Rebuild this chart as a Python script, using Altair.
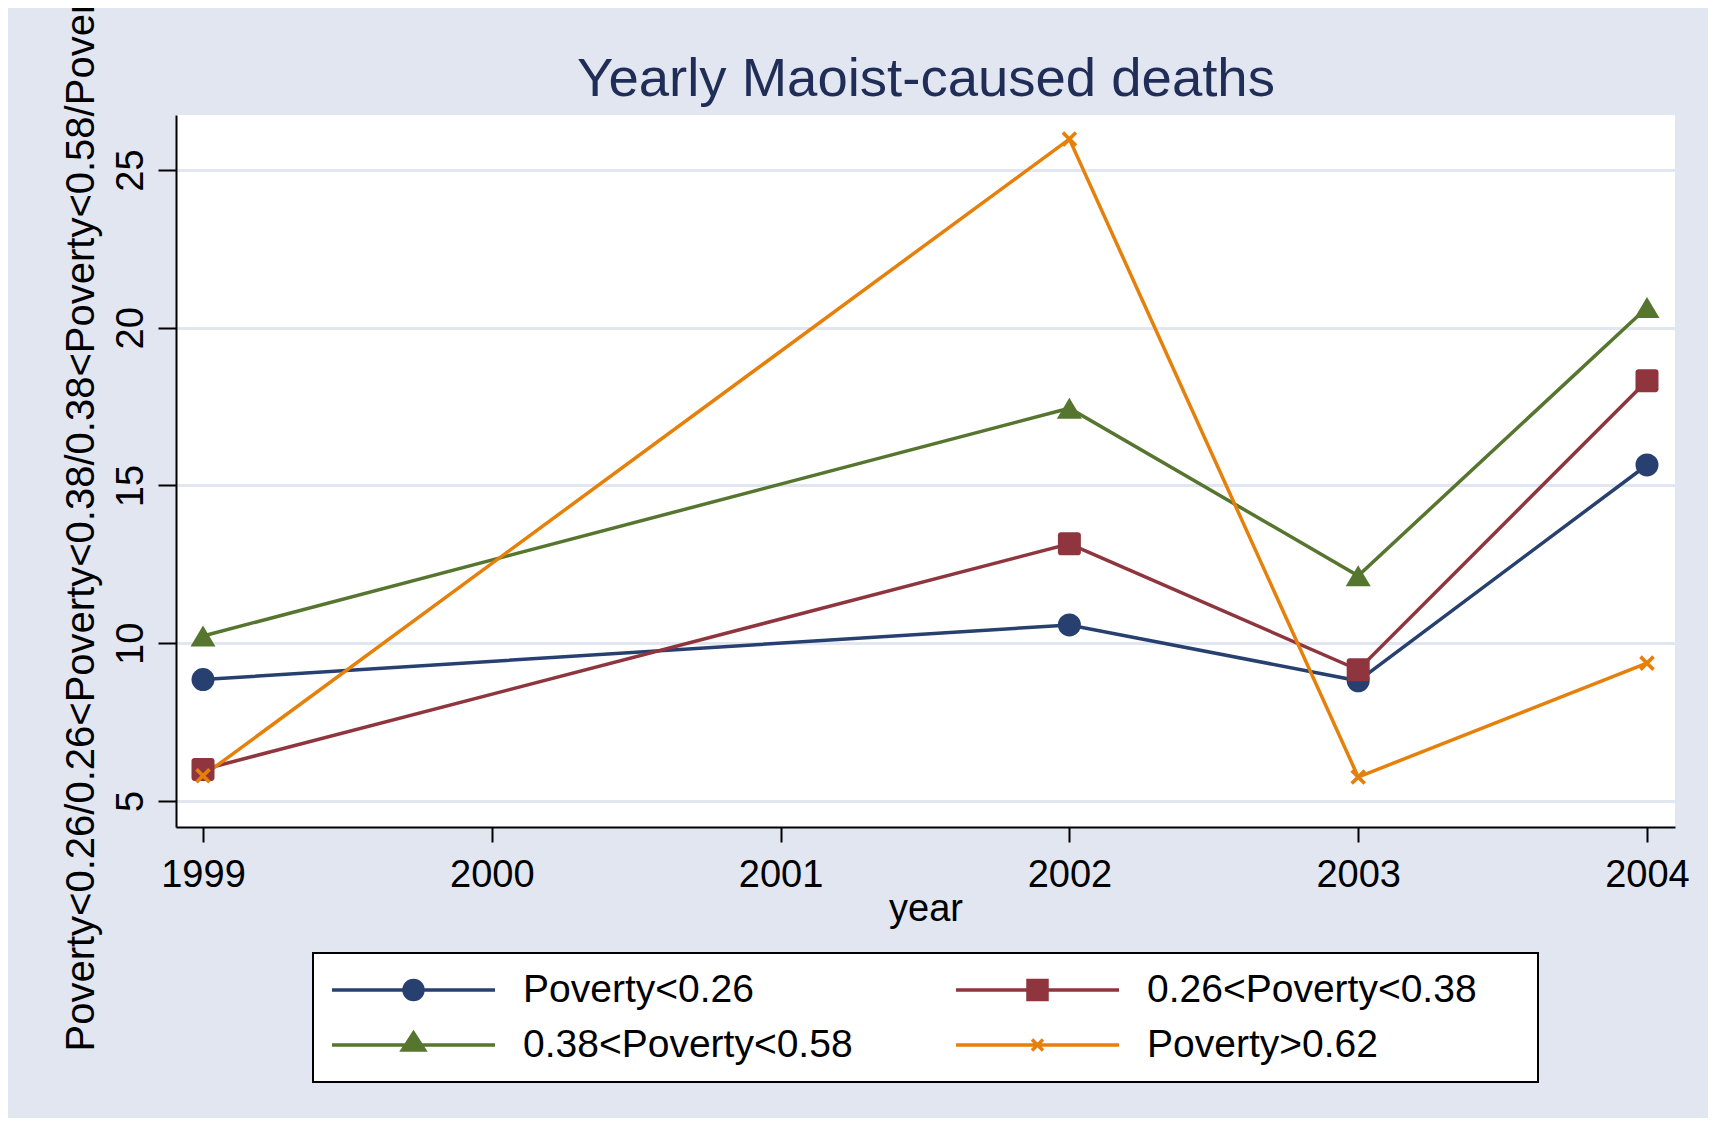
import math
import altair as alt
import pandas as pd

# ---------------- data ----------------
years = [1999, 2002, 2003, 2004]
series_names = ["Poverty<0.26", "0.26<Poverty<0.38", "0.38<Poverty<0.58", "Poverty>0.62"]
pov_lt_026 = [8.85, 10.58, 8.81, 15.65]
pov_026_038 = [6.00, 13.15, 9.16, 18.32]
pov_038_058 = [10.23, 17.45, 12.14, 20.64]
pov_gt_062 = [5.80, 25.98, 5.76, 9.37]
x_ticks = [1999, 2000, 2001, 2002, 2003, 2004]
y_ticks = [5, 10, 15, 20, 25]

title_text = "Yearly Maoist-caused deaths"
x_title = "year"
y_title = "Poverty<0.26/0.26<Poverty<0.38/0.38<Poverty<0.58/Poverty>0.62"

# ---------------- styles ----------------
colors = ["#27406F", "#8F353D", "#56752F", "#E5800A"]
BG = "#E1E6F0"
GRID = "#E1E6F0"
FONT = "Liberation Sans"
TITLE_COLOR = "#1F2D57"

rows = []
for name, vals in zip(series_names, [pov_lt_026, pov_026_038, pov_038_058, pov_gt_062]):
    for yr, v in zip(years, vals):
        rows.append({"year": yr, "deaths": v, "series": name})
df = pd.DataFrame(rows)


def f(v):
    return f"{v:.4f}"


def x_polygon(half_extent, half_thick):
    w = half_thick
    L = math.sqrt(2) * half_extent - w
    pts = [(-w, -L), (w, -L), (w, -w), (L, -w), (L, w), (w, w), (w, L), (-w, L),
           (-w, w), (-L, w), (-L, -w), (-w, -w)]
    s = math.sqrt(0.5)
    rp = [((x - y) * s, (x + y) * s) for x, y in pts]
    return "M" + "L".join(f"{f(x)},{f(y)}" for x, y in rp) + "Z"


# marker shapes (unit = sqrt(size)/2 = 11.5 px)
tri_marker = "M0,-0.913L1.087,0.913L-1.087,0.913Z"
c = 0.25
sq_marker = (f"M{-1 + c},-1L{1 - c},-1A{c},{c},0,0,1,1,{-1 + c}L1,{1 - c}"
             f"A{c},{c},0,0,1,{1 - c},1L{-1 + c},1A{c},{c},0,0,1,-1,{1 - c}"
             f"L-1,{-1 + c}A{c},{c},0,0,1,{-1 + c},-1Z")
x_marker = x_polygon(0.68, 0.16)
marker_shapes = ["circle", sq_marker, tri_marker, x_marker]

# legend symbols (unit = 81.5 px)
U = 81.5


def u(px):
    return f(px / U)


r = u(9.5)
leg_circle = f"M-1,0L1,0M{r},0A{r},{r},0,1,1,-{r},0A{r},{r},0,1,1,{r},0Z"
leg_square = f"M-1,0L1,0M-{r},-{r}L{r},-{r}L{r},{r}L-{r},{r}Z"
leg_tri = f"M-1,0L1,0M0,{u(-12)}L{u(11)},{u(5)}L{u(-11)},{u(5)}Z"
a = u(5.5)
leg_x = f"M-1,0L1,0M-{a},-{a}L{a},{a}M-{a},{a}L{a},-{a}"
legend_shapes = [leg_circle, leg_square, leg_tri, leg_x]

# ---------------- scales / axes ----------------
scale_x = alt.Scale(domain=[1998.9065, 2004.097], nice=False, zero=False)
scale_y = alt.Scale(domain=[4.176, 26.743], nice=False, zero=False)

W, H = 1499, 712

x_axis = alt.Axis(
    orient="bottom", values=x_ticks, format="d", grid=False,
    domainColor="black", domainWidth=2, tickColor="black", tickWidth=2, tickSize=15,
    labelFontSize=38, labelColor="black", labelBaseline="alphabetic", labelPadding=44,
    labelFlush=False, labelOverlap=False,
    title=x_title, titleFontSize=38, titleColor="black", titleFontWeight="normal",
    titleX=W / 2, titleY=93, titleAlign="center", titleBaseline="alphabetic",
)

y_axis = alt.Axis(
    orient="left", values=y_ticks, grid=True, gridColor=GRID, gridWidth=3,
    domainColor="black", domainWidth=2, tickColor="black", tickWidth=2, tickSize=18,
    labelFontSize=38, labelColor="black", labelAngle=270, labelAlign="center",
    labelBaseline="alphabetic", labelPadding=16, labelOverlap=False,
    title=y_title, titleFontSize=40, titleColor="black", titleFontWeight="normal",
    titleAngle=270, titleAlign="left", titleBaseline="alphabetic",
    titleX=-83, titleY=936, titleLimit=5000,
)

title_axis = alt.Axis(
    orient="top", labels=False, ticks=False, domain=False, grid=False,
    title=title_text, titleFontSize=54.5, titleColor=TITLE_COLOR, titleFontWeight="normal",
    titleX=W / 2, titleY=-20, titleAlign="center", titleBaseline="alphabetic",
    titleLimit=5000,
)

leg = alt.Legend(
    title="\u00a0", titleOrient="right", titleFontSize=1, titlePadding=44,
    orient="none", legendX=137, legendY=838, direction="horizontal", columns=2,
    symbolSize=26569, symbolStrokeWidth=3.5, symbolOpacity=1, clipHeight=40,
    labelFontSize=39, labelColor="black", labelLimit=700, labelOffset=26,
    columnPadding=101, rowPadding=15, padding=17,
    strokeColor="black", fillColor="white",
)

base = alt.Chart(df)

lines = base.mark_line(strokeWidth=3.5).encode(
    x=alt.X("year:Q", scale=scale_x, axis=x_axis),
    y=alt.Y("deaths:Q", scale=scale_y, axis=y_axis),
    color=alt.Color("series:N", scale=alt.Scale(domain=series_names, range=colors), legend=None),
)

markers = base.mark_point(filled=True, opacity=1, size=529).encode(
    x=alt.X("year:Q", scale=scale_x, axis=None),
    y=alt.Y("deaths:Q", scale=scale_y, axis=y_axis),
    color=alt.Color("series:N", scale=alt.Scale(domain=series_names, range=colors), legend=None),
    shape=alt.Shape("series:N", scale=alt.Scale(domain=series_names, range=marker_shapes), legend=None),
)

legend_layer = base.mark_point(opacity=0).encode(
    x=alt.X("year:Q", scale=scale_x, axis=title_axis),
    y=alt.Y("deaths:Q", scale=scale_y, axis=y_axis),
    fill=alt.Fill("series:N", scale=alt.Scale(domain=series_names, range=colors), legend=leg),
    stroke=alt.Stroke("series:N", scale=alt.Scale(domain=series_names, range=colors), legend=leg),
    shape=alt.Shape("series:N", scale=alt.Scale(domain=series_names, range=legend_shapes), legend=leg),
)

chart = (
    alt.layer(lines, markers, legend_layer)
    .resolve_scale(shape="independent", fill="independent", stroke="independent")
    .resolve_axis(x="independent")
    .properties(
        width=W, height=H, background=BG,
        autosize=alt.AutoSizeParams(type="none"),
        padding={"left": 168, "top": 107, "right": 33, "bottom": 291},
    )
    .configure(font=FONT)
    .configure_view(fill="white", strokeWidth=0)
    .configure_legend(strokeWidth=2)
)

chart.save("out.html", embed_options={"renderer": "svg", "actions": False})
